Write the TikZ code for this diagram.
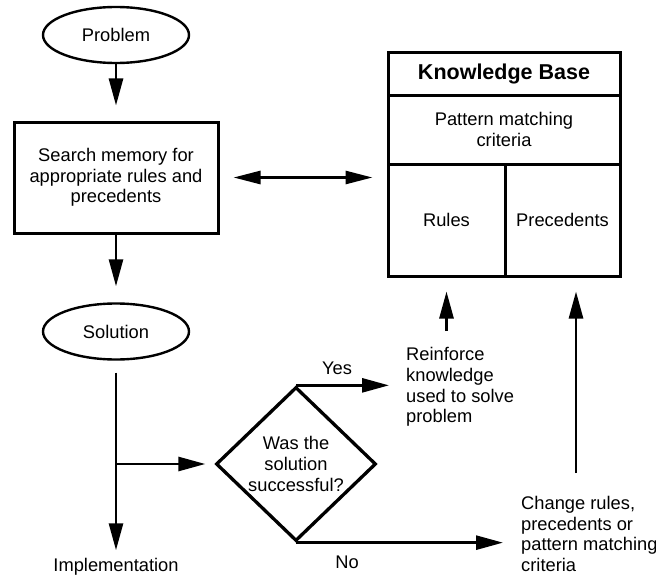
\documentclass[tikz,border=0pt]{standalone}
\usepackage{fontspec}
\setmainfont{Liberation Sans}
\usetikzlibrary{arrows.meta,shapes.geometric}

\begin{document}
\begin{tikzpicture}[x=1pt,y=-1pt,
  txt/.style={font=\fontsize{18.3pt}{20.7pt}\selectfont},
  term/.style={txt,ellipse,draw,line width=2.4pt,minimum width=146pt,minimum height=56pt,inner sep=0pt},
  proc/.style={txt,rectangle,draw,line width=3pt,align=center,inner sep=0pt},
  cell/.style={txt,rectangle,draw,line width=3pt,align=center,inner sep=0pt},
  decision/.style={txt,diamond,draw,line width=3.3pt,align=center,inner sep=0pt,
    minimum width=160pt,minimum height=154pt},
  note/.style={txt,align=left,inner sep=0pt},
  flow/.style={line width=2.7pt,-{Triangle[length=27pt,width=14pt]}},
  both/.style={line width=2.7pt,{Triangle[length=27pt,width=13pt]}-{Triangle[length=27pt,width=13pt]}}
]
\useasboundingbox (0,0) rectangle (656,578);

% left column
\node[term] (prob) at (116,35) {Problem};
\node[proc,minimum width=204pt,minimum height=111pt] (search) at (116,177.5)
  {Search memory for\\appropriate rules and\\precedents};
\node[term] (sol) at (116,331.5) {Solution};
\node[txt,inner sep=0pt] (impl) at (116,567) {Implementation};

% knowledge base
\node[cell,minimum width=232pt,minimum height=42pt,
  font=\fontsize{21.5pt}{24pt}\selectfont\bfseries] (kbtitle) at (504,74) {Knowledge Base};
\node[cell,minimum width=232pt,minimum height=69pt] (kbpat) at (504,129.5)
  {Pattern matching\\criteria};
\node[cell,minimum width=117pt,minimum height=112pt] (kbrules) at (446.5,220) {Rules};
\node[cell,minimum width=115pt,minimum height=112pt] (kbprec) at (562.5,220) {Precedents};

% decision and outcomes
\node[decision] (dec) at (296,464) {Was the\\solution\\successful?};
\node[note,anchor=west] (reinf) at (406,387)
  {Reinforce\\knowledge\\used to solve\\problem};
\node[note,anchor=west] (change) at (521,534)
  {Change rules,\\precedents or\\pattern matching\\criteria};
\node[txt,inner sep=0pt] (yes) at (337,368) {Yes};
\node[txt,inner sep=0pt] (no) at (347,562) {No};

\coordinate (br) at (sol.south |- dec.west);
\coordinate (chgtop) at (576,473);

% connectors
\draw[flow,shorten >=15pt] (prob) -- (search);
\draw[flow,shorten >=16pt] (search) -- (sol);
\draw[both,shorten <=14pt,shorten >=14pt] (search.east) -- (search.east -| kbpat.west);
\draw[flow,shorten <=12pt,shorten >=8pt] (sol) -- (impl);
\draw[flow,shorten >=9pt] (br) -- (dec.west);
\draw[flow,shorten >=17pt] (dec.north) -- (dec.north -| reinf.west);
\draw[flow,shorten >=18pt] (dec.south) -- (dec.south -| change.west);
\draw[flow,shorten <=16pt,shorten >=14pt] (reinf.north -| kbrules.south) -- (kbrules.south);
\draw[flow,shorten >=14pt] (chgtop) -- (chgtop |- kbprec.south);
\end{tikzpicture}
\end{document}
